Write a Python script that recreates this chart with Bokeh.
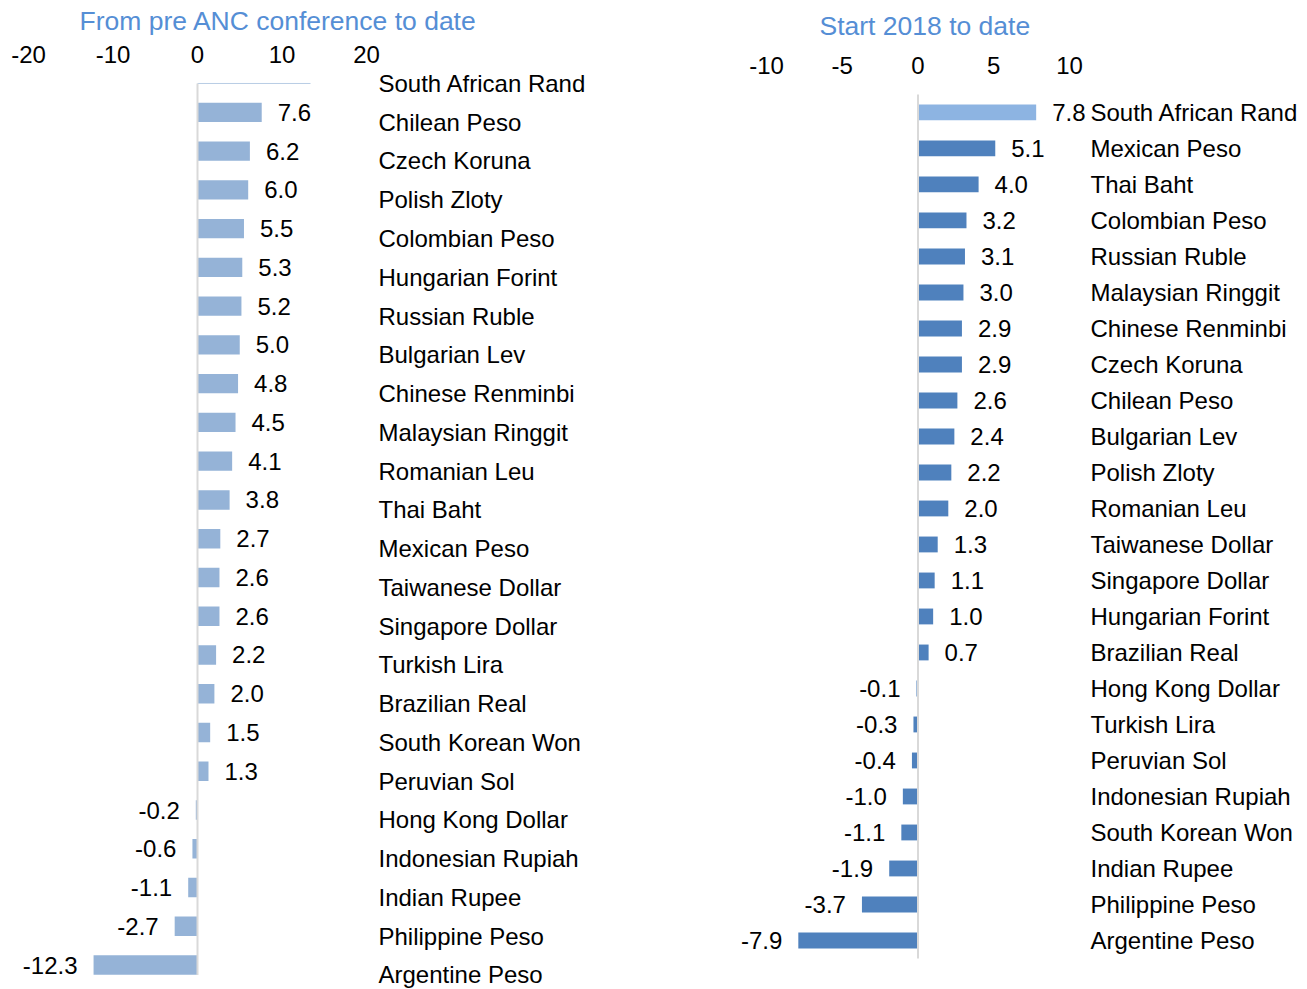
from bokeh.plotting import figure
from bokeh.models import ColumnDataSource, Range1d, LinearAxis, FixedTicker, Title
from bokeh.layouts import row
from bokeh.core.properties import value
from bokeh.embed import file_html
from bokeh.resources import INLINE

# ---------------- data ----------------
left_title = "From pre ANC conference to date"
left_names = ["South African Rand", "Chilean Peso", "Czech Koruna", "Polish Zloty",
              "Colombian Peso", "Hungarian Forint", "Russian Ruble", "Bulgarian Lev",
              "Chinese Renminbi", "Malaysian Ringgit", "Romanian Leu", "Thai Baht",
              "Mexican Peso", "Taiwanese Dollar", "Singapore Dollar", "Turkish Lira",
              "Brazilian Real", "South Korean Won", "Peruvian Sol", "Hong Kong Dollar",
              "Indonesian Rupiah", "Indian Rupee", "Philippine Peso", "Argentine Peso"]
left_values = [7.6, 6.2, 6.0, 5.5, 5.3, 5.2, 5.0, 4.8, 4.5, 4.1, 3.8, 2.7, 2.6, 2.6,
               2.2, 2.0, 1.5, 1.3, -0.2, -0.6, -1.1, -2.7, -12.3]
left_ticks = [-20, -10, 0, 10, 20]

right_title = "Start 2018 to date"
right_names = ["South African Rand", "Mexican Peso", "Thai Baht", "Colombian Peso",
               "Russian Ruble", "Malaysian Ringgit", "Chinese Renminbi", "Czech Koruna",
               "Chilean Peso", "Bulgarian Lev", "Polish Zloty", "Romanian Leu",
               "Taiwanese Dollar", "Singapore Dollar", "Hungarian Forint", "Brazilian Real",
               "Hong Kong Dollar", "Turkish Lira", "Peruvian Sol", "Indonesian Rupiah",
               "South Korean Won", "Indian Rupee", "Philippine Peso", "Argentine Peso"]
right_values = [7.8, 5.1, 4.0, 3.2, 3.1, 3.0, 2.9, 2.9, 2.6, 2.4, 2.2, 2.0, 1.3, 1.1,
                1.0, 0.7, -0.1, -0.3, -0.4, -1.0, -1.1, -1.9, -3.7, -7.9]
right_ticks = [-10, -5, 0, 5, 10]

# ---------------- style ----------------
FONT = value("Liberation Sans")
TITLE_COLOR = "#558ED5"
LEFT_BAR = "#95B3D7"
RIGHT_BAR = "#4F81BD"
RIGHT_HILITE = "#8DB4E2"
AXIS_GRAY = "#D9D9D9"
H = 989
FRAME_TOP = 66


class Panel:
    def __init__(self, x0_page, width, zero_px, ppu, row_px0, row_px):
        self.x0, self.zero, self.ppu = x0_page, zero_px, ppu
        self.row0, self.rowh = row_px0, row_px
        self.xr = ((x0_page - zero_px) / ppu, (x0_page + width - zero_px) / ppu)
        self.yr = ((H - row_px0) / row_px, (FRAME_TOP - row_px0) / row_px)
        self.width = width

    def dx(self, page_x):
        return (page_x - self.zero) / self.ppu


def make_fig(pan, title, title_x, title_standoff, axis_standoff, ticks):
    p = figure(width=pan.width, height=H, output_backend="svg", toolbar_location=None,
               x_range=Range1d(*pan.xr), y_range=Range1d(*pan.yr),
               x_axis_location=None, y_axis_location=None,
               min_border_left=0, min_border_right=0, min_border_bottom=0,
               min_border_top=FRAME_TOP, outline_line_color=None,
               background_fill_color="white", border_fill_color="white")
    p.grid.visible = False
    ax = LinearAxis(ticker=FixedTicker(ticks=ticks), axis_line_color=None,
                    major_tick_line_color=None, minor_tick_line_color=None,
                    major_tick_out=0, major_tick_in=0,
                    major_label_standoff=axis_standoff,
                    major_label_overrides={t: str(t) for t in ticks},
                    major_label_text_font="Liberation Sans",
                    major_label_text_font_size="24px",
                    major_label_text_color="black")
    p.add_layout(ax, "above")
    p.add_layout(Title(text=title, align="left", offset=title_x - pan.x0,
                       standoff=title_standoff, vertical_align="top",
                       text_font="Liberation Sans", text_font_size="26.5px",
                       text_font_style="normal", text_color=TITLE_COLOR), "above")
    return p


def add_values(p, rows, vals, fill, height, gap):
    src = ColumnDataSource(dict(
        y=rows, v=vals, fill=fill,
        lab=["%.1f" % v for v in vals],
        align=["left" if v >= 0 else "right" for v in vals],
        xoff=[gap if v >= 0 else -gap for v in vals]))
    p.hbar(y="y", left=0, right="v", height=height, source=src,
           fill_color="fill", line_color=None)
    return src


def add_texts(p, src, x, y, text, align=None, xoff=None):
    p.text(x=x, y=y, text=text, source=src,
           text_align=align if align else "left",
           x_offset=xoff if xoff else 0,
           text_baseline="middle", text_font=FONT, text_font_size=value("24px"),
           text_color="black")


# ---------------- left panel ----------------
L = Panel(0, 700, 197.0, 8.45, 82.0, 38.8)
L_BAR_SHIFT = 0.745                    # bars sit between the label rows
pl = make_fig(L, left_title, 79, 9, 5, left_ticks)

lrows = [i + L_BAR_SHIFT for i in range(len(left_values))]
pl.segment(x0=0, y0=0, x1=L.dx(310), y1=0, line_color="#B9CDE5", line_width=1)
lsrc = add_values(pl, lrows, left_values, [LEFT_BAR] * len(left_values), 0.5, 16)
pl.segment(x0=0, y0=0, x1=0, y1=23.0, line_color=AXIS_GRAY, line_width=2)
add_texts(pl, lsrc, "v", "y", "lab", "align", "xoff")
lnsrc = ColumnDataSource(dict(y=list(range(len(left_names))), name=left_names,
                              x=[L.dx(378)] * len(left_names)))
add_texts(pl, lnsrc, "x", "y", "name")

# ---------------- right panel ----------------
R = Panel(700, 607, 917.5, 15.15, 111.0, 36.04)
pr = make_fig(R, right_title, 819, 21, -6, right_ticks)

rrows = list(range(len(right_values)))
rfill = [RIGHT_HILITE if i == 0 else RIGHT_BAR for i in rrows]
rsrc = add_values(pr, rrows, right_values, rfill, 0.44, 16)
pr.segment(x0=0, y0=-0.5, x1=0, y1=23.5, line_color=AXIS_GRAY, line_width=2)
add_texts(pr, rsrc, "v", "y", "lab", "align", "xoff")
rnsrc = ColumnDataSource(dict(y=rrows, name=right_names,
                              x=[R.dx(1090)] * len(right_names)))
add_texts(pr, rnsrc, "x", "y", "name")

layout = row(pl, pr, spacing=0)
open("out.html", "w").write(file_html(layout, INLINE))
